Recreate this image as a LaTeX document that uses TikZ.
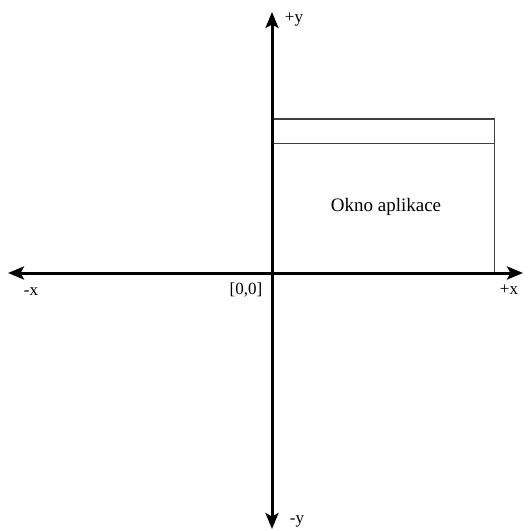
\documentclass[tikz,border=0pt]{standalone}
\usepackage{fontspec}
\setmainfont{Liberation Serif}
\usetikzlibrary{arrows.meta}
\begin{document}
\begin{tikzpicture}[x=1pt,y=-1pt,
  axis/.style={line width=3pt,-{Stealth[length=16pt,width=13pt,inset=3.5pt]}},
  win/.style={draw=black!75,line width=1.3pt},
  lbl/.style={font=\fontsize{17}{17}\selectfont,inner sep=0pt},
  wlbl/.style={font=\fontsize{19}{19}\selectfont,inner sep=0pt}]
\useasboundingbox (0,0) rectangle (523,530);
\coordinate (O) at (272,273);
\coordinate (top) at (272,12);
\coordinate (bot) at (272,529);
\coordinate (left) at (8,273);
\coordinate (right) at (523,273);
\draw[win] (272,119) rectangle (494.5,273);
\draw[win] (272,143.5) -- (494.5,143.5);
\node[wlbl] (title) at (386,207) {Okno aplikace};
\draw[axis] (O) -- (top);
\draw[axis] (O) -- (bot);
\draw[axis] (O) -- (left);
\draw[axis] (O) -- (right);
\node[lbl] (py) at (294,20) {+y};
\node[lbl] (my) at (297,521) {-y};
\node[lbl] (mx) at (31,292) {-x};
\node[lbl] (px) at (509,290) {+x};
\node[lbl] (o) at (246,290) {[0,0]};
\end{tikzpicture}
\end{document}
